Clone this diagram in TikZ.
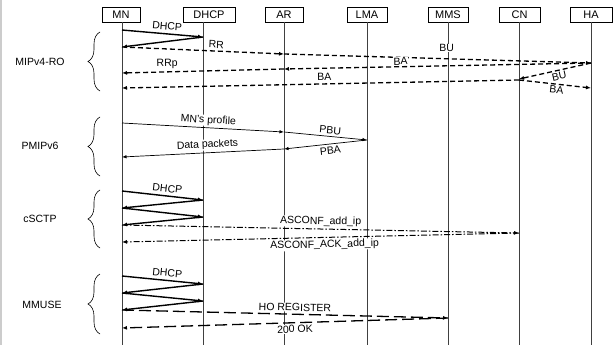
\documentclass[tikz,border=0pt]{standalone}
\usepackage{fontspec}
\setmainfont{Liberation Sans}
\usetikzlibrary{arrows.meta,decorations.pathreplacing}

\tikzset{
  entity/.style={draw, rectangle, minimum height=15pt, inner sep=0pt, line width=0.6pt, font=\fontsize{11}{12}\selectfont},
  lifeline/.style={draw=black!75, line width=0.7pt},
  tag/.style={fill=white, inner sep=0.6pt},
  grp/.style={decorate, decoration={brace, amplitude=12pt}, line width=0.6pt},
  dhcpmsg/.style={line width=1.4pt, -{Latex[length=5pt,width=4pt]}},
  mipmsg/.style={line width=1.3pt, dash pattern=on 5pt off 3pt, -{Latex[length=5pt,width=4pt]}},
  pmipmsg/.style={line width=0.7pt, -{Latex[length=4.5pt,width=3.5pt]}},
  sctpmsg/.style={line width=1pt, dash pattern=on 6pt off 2pt on 1.5pt off 2pt, -{Latex[length=5pt,width=4pt]}},
  mmusemsg/.style={line width=1.3pt, dash pattern=on 12pt off 5pt, -{Latex[length=5pt,width=4pt]}}
}

\begin{document}
\begin{tikzpicture}[
		x=1pt, y=-1pt,
		every node/.style={font=\fontsize{10.5}{12}\selectfont}
	]
  \useasboundingbox (0,0) rectangle (613,345);
  \draw[black!20, line width=1.5pt] (1,0) -- (1,345);

  % entities
  \node (MN) [entity, minimum width=38pt] at (121,14.5) {MN};
  \node (DHCP) [entity, minimum width=52pt] at (209,14.5) {DHCP};
  \node (AR) [entity, minimum width=38pt] at (284,14.5) {AR};
  \node (LMA) [entity, minimum width=40pt] at (367,14.5) {LMA};
  \node (MMS) [entity, minimum width=40pt] at (448,14.5) {MMS};
  \node (CN) [entity, minimum width=41pt] at (519.5,14.5) {CN};
  \node (HA) [entity, minimum width=42pt] at (591,14.5) {HA};

  % lifelines
  \coordinate (mn) at (122,22);
  \coordinate (dhcp) at (203,22);
  \coordinate (ar) at (284,22);
  \coordinate (lma) at (367,22);
  \coordinate (mms) at (448,22);
  \coordinate (cn) at (519,22);
  \coordinate (ha) at (591,22);
  \foreach \l in {mn, dhcp, ar, lma, mms, cn, ha}
    \draw[lifeline] (\l) -- (\l |- 0,345);

  % groups
  \draw[grp] (100,91) -- (100,32);
  \node (g_mip) at (40,62) {MIPv4-RO};
  \draw[grp] (100,176) -- (100,117);
  \node (g_pmip) at (40,146) {PMIPv6};
  \draw[grp] (100,248) -- (100,190);
  \node (g_sctp) at (40,219) {cSCTP};
  \draw[grp] (100,334) -- (100,274);
  \node (g_mmuse) at (42,305) {MMUSE};

  % MIPv4-RO
  \draw[dhcpmsg] (mn |- 0,30) -- node[tag, sloped, above=2.5pt, pos=.55] {DHCP} (dhcp |- 0,37);
  \draw[dhcpmsg] (dhcp |- 0,37) -- (mn |- 0,47);
  \draw[mipmsg] (mn |- 0,47) -- node[tag, sloped, above=1.5pt, pos=.58] {RR} (ar |- 0,54);
  \draw[mipmsg] (ar |- 0,54) -- node[tag, above=6pt, pos=.53] {BU} (ha |- 0,63);
  \draw[mipmsg] (ha |- 0,63) -- node[tag, sloped, above=0.5pt, pos=.62] {BA} (ar |- 0,69);
  \draw[mipmsg] (ar |- 0,69) -- node[tag, sloped, above=2pt, pos=.72] {RRp} (mn |- 0,73);
  \draw[mipmsg] (ha |- 0,63) -- node[tag, sloped, below=1pt, pos=.46] {BU} (cn |- 0,79);
  \draw[mipmsg] (cn |- 0,80) -- node[tag, sloped, above=2pt, pos=.49] {BA} (mn |- 0,88);
  \draw[mipmsg] (cn |- 0,80) -- node[tag, sloped, below=1pt, pos=.53] {BA} (ha |- 0,88);

  % PMIPv6
  \draw[pmipmsg] (mn |- 0,123) -- node[tag, sloped, above=1.5pt, pos=.53] {MN's profile} (ar |- 0,132);
  \draw[pmipmsg] (ar |- 0,132) -- node[tag, sloped, above=1.5pt, pos=.55] {PBU} (lma |- 0,140);
  \draw[pmipmsg] (lma |- 0,140) -- node[tag, sloped, below=2pt, pos=.45] {PBA} (ar |- 0,149);
  \draw[pmipmsg] (ar |- 0,149) -- node[tag, sloped, above=2pt, pos=.47] {Data packets} (mn |- 0,157);

  % cSCTP
  \draw[dhcpmsg] (mn |- 0,191) -- node[tag, sloped, above=2.5pt, pos=.55] {DHCP} (dhcp |- 0,200);
  \draw[dhcpmsg] (dhcp |- 0,200) -- (mn |- 0,208);
  \draw[dhcpmsg] (mn |- 0,208) -- (dhcp |- 0,217);
  \draw[dhcpmsg] (dhcp |- 0,217) -- (mn |- 0,225);
  \draw[sctpmsg] (mn |- 0,225) -- node[tag, sloped, above=1.5pt, pos=.5] {ASCONF\_add\_ip} (cn |- 0,233);
  \draw[sctpmsg] (cn |- 0,233) -- node[tag, sloped, below=1.5pt, pos=.49] {ASCONF\_ACK\_add\_ip} (mn |- 0,242);

  % MMUSE
  \draw[dhcpmsg] (mn |- 0,276) -- node[tag, sloped, above=2.5pt, pos=.55] {DHCP} (dhcp |- 0,284);
  \draw[dhcpmsg] (dhcp |- 0,284) -- (mn |- 0,293);
  \draw[dhcpmsg] (mn |- 0,293) -- (dhcp |- 0,301);
  \draw[dhcpmsg] (dhcp |- 0,301) -- (mn |- 0,310);
  \draw[mmusemsg] (mn |- 0,310) -- node[tag, sloped, above=2pt, pos=.53] {HO REGISTER} (mms |- 0,318);
  \draw[mmusemsg] (mms |- 0,318) -- node[tag, sloped, below=1.5pt, pos=.47] {200 OK} (mn |- 0,328);
\end{tikzpicture}
\end{document}
